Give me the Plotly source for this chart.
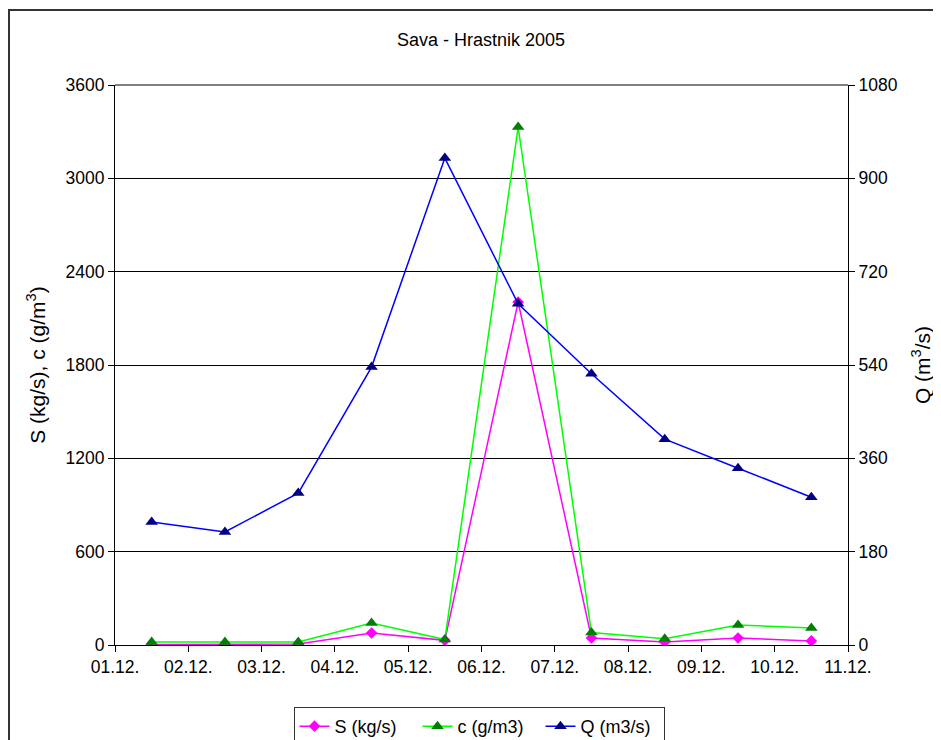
import plotly.graph_objects as go

tick_labels = ["01.12.", "02.12.", "03.12.", "04.12.", "05.12.", "06.12.",
               "07.12.", "08.12.", "09.12.", "10.12.", "11.12."]
S_vals = [3, 3, 6, 77, 30, 2205, 45, 19, 45, 26]
c_vals = [20, 20, 20, 141, 35, 3330, 80, 40, 129, 109]
Q_vals = [237, 218, 293, 536, 939, 658, 523, 397, 341, 285]

x_pos = [i + 0.5 for i in range(len(S_vals))]

OFF = 8  # page body margin
W, H = 941 - OFF, 740 - OFF
L, R, T, B = 115 - OFF, 848 - OFF, 85 - OFF, 645 - OFF
FONT = "Liberation Sans, Arial, sans-serif"

def px_x(px):
    return (px - OFF - L) / (R - L)

def px_y(py):
    return (B - (py - OFF)) / (B - T)

fig = go.Figure()
fig.add_trace(go.Scatter(
    x=x_pos, y=S_vals, name="S (kg/s)", mode="lines+markers",
    line=dict(color="#FF00FF", width=1.5),
    marker=dict(symbol="diamond", size=9, color="#FF00FF"),
))
fig.add_trace(go.Scatter(
    x=x_pos, y=c_vals, name="c (g/m3)", mode="lines+markers",
    line=dict(color="#00FF00", width=1.5),
    marker=dict(symbol="triangle-up", size=11, color="#008000"),
))
fig.add_trace(go.Scatter(
    x=x_pos, y=Q_vals, name="Q (m3/s)", mode="lines+markers", yaxis="y2",
    line=dict(color="#0000FF", width=1.5),
    marker=dict(symbol="triangle-up", size=11, color="#000080"),
))

fig.update_layout(
    width=W, height=H,
    margin=dict(l=L, r=W - R, t=T, b=H - B, pad=0, autoexpand=False),
    paper_bgcolor="white", plot_bgcolor="white",
    font=dict(family=FONT, size=17.5, color="black"),
    title=dict(text="Sava - Hrastnik 2005", x=px_x(481), xref="paper",
               xanchor="center", y=1 - (40 - OFF) / H, yanchor="middle",
               font=dict(size=18)),
    showlegend=True,
    legend=dict(orientation="h", x=px_x(479), xanchor="center",
                y=px_y(707), yanchor="top", bordercolor="#333333",
                borderwidth=1, bgcolor="white", font=dict(size=18),
                itemwidth=30, tracegroupgap=0, entrywidth=78,
                entrywidthmode="pixels"),
    xaxis=dict(
        range=[0, len(S_vals)], tickmode="array",
        tickvals=list(range(len(tick_labels))), ticktext=tick_labels,
        showline=True, linecolor="black", linewidth=1,
        ticks="outside", ticklen=6, tickcolor="black",
        showgrid=False, zeroline=False, fixedrange=True,
    ),
    yaxis=dict(
        range=[0, 3600], dtick=600, tick0=0,
        showline=True, linecolor="black", linewidth=1,
        ticks="outside", ticklen=6, tickcolor="black",
        showgrid=True, gridcolor="black", gridwidth=1, zeroline=False,
        title=dict(text="S (kg/s), c (g/m<sup>3</sup>)", standoff=14),
    ),
    yaxis2=dict(
        range=[0, 1080], dtick=180, tick0=0, overlaying="y", side="right",
        showline=True, linecolor="black", linewidth=1,
        ticks="outside", ticklen=6, tickcolor="black",
        showgrid=False, zeroline=False,
        title=dict(text="Q (m<sup>3</sup>/s)", standoff=18),
    ),
    shapes=[
        dict(type="rect", xref="paper", yref="paper",
             x0=px_x(9), x1=px_x(939), y0=px_y(760), y1=px_y(10),
             line=dict(color="#333333", width=2), fillcolor="rgba(0,0,0,0)",
             layer="below"),
        dict(type="line", xref="paper", yref="paper",
             x0=0, x1=1, y0=1, y1=1, line=dict(color="black", width=1)),
    ],
)

fig.write_html("out.html")
